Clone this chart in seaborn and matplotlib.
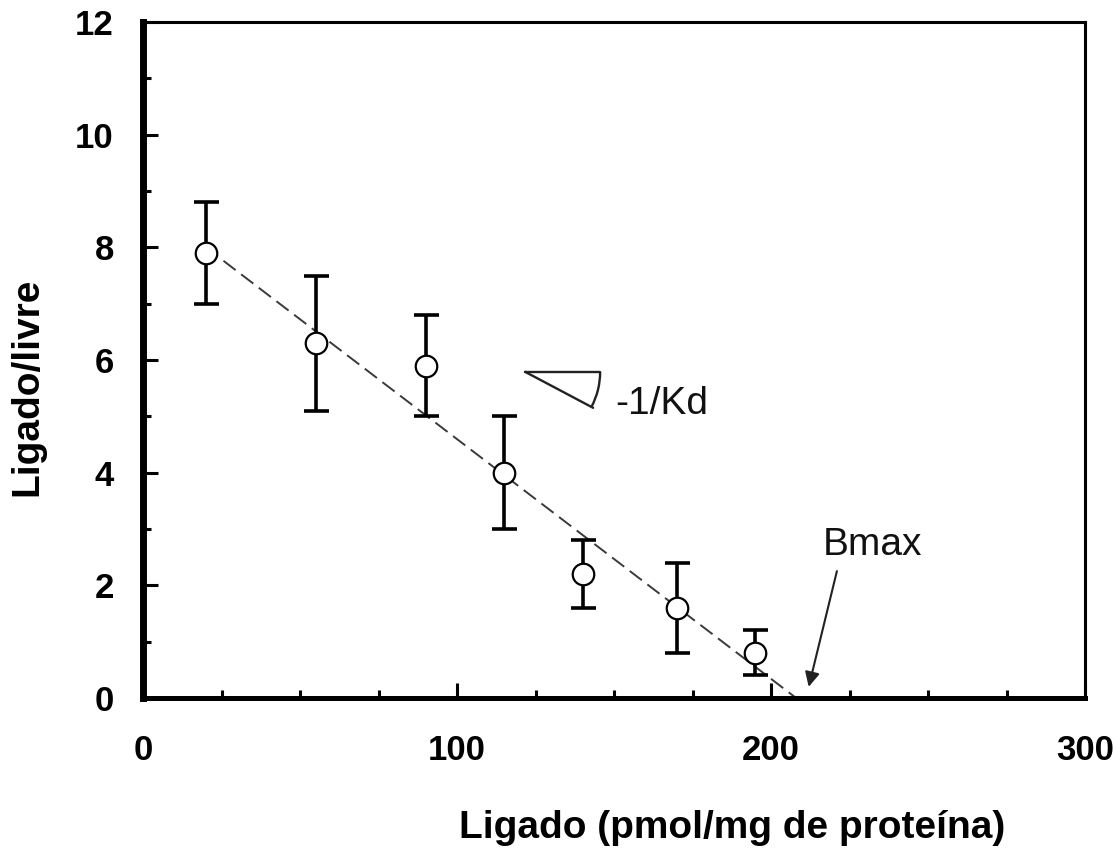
import numpy as np
import pandas as pd
import matplotlib
matplotlib.use('Agg')
import matplotlib.pyplot as plt
import matplotlib.transforms as mtransforms
from matplotlib.patches import Arc
from matplotlib.ticker import MultipleLocator
import seaborn as sns

# Scatchard plot data
bound = [20, 55, 90, 115, 140, 170, 195]
ratio = [7.9, 6.3, 5.9, 4.0, 2.2, 1.6, 0.8]
err = [0.9, 1.2, 0.9, 1.0, 0.6, 0.8, 0.4]

fit_x = [20, 208]
fit_y = [8.0, 0.0]

df = pd.DataFrame({'bound': bound, 'ratio': ratio, 'err': err})
fit = pd.DataFrame({'x': fit_x, 'y': fit_y})

sns.set_style('ticks')
plt.rcParams['font.family'] = ['Liberation Sans', 'DejaVu Sans']
plt.rcParams['lines.scale_dashes'] = False
for key in ['text.color', 'axes.labelcolor', 'xtick.color', 'ytick.color']:
    plt.rcParams[key] = 'black'

fig = plt.figure(figsize=(11.14, 8.48), dpi=100)
ax = fig.add_axes([143 / 1114, 1 - 698 / 848, 942 / 1114, 676 / 848])

sns.lineplot(data=fit, x='x', y='y', ax=ax, color='#3a3a3a', lw=1.4,
             dashes=False, zorder=2).lines[0].set_dashes((11, 5))
ax.errorbar(df['bound'], df['ratio'], yerr=df['err'], fmt='none', ecolor='black',
            elinewidth=2.6, capsize=9, capthick=2.6, zorder=3)
sns.scatterplot(data=df, x='bound', y='ratio', ax=ax, s=240, facecolor='white',
                edgecolor='black', linewidth=1.6, zorder=4)

ax.set_xlim(0, 300)
ax.set_ylim(0, 12)
ax.xaxis.set_major_locator(MultipleLocator(100))
ax.xaxis.set_minor_locator(MultipleLocator(25))
ax.yaxis.set_major_locator(MultipleLocator(2))
ax.yaxis.set_minor_locator(MultipleLocator(1))
ax.tick_params(which='both', direction='in', top=False, right=False, width=2.2, color='black')
ax.tick_params(which='major', length=11)
ax.tick_params(which='minor', length=6)
ax.tick_params(axis='x', which='major', pad=26)
ax.tick_params(axis='y', which='major', pad=21)
for lab in ax.get_xticklabels() + ax.get_yticklabels():
    lab.set_fontsize(25)
    lab.set_fontweight('bold')

for side, lw in [('left', 5), ('bottom', 3.6), ('top', 2.2), ('right', 2.2)]:
    ax.spines[side].set_linewidth(lw)
    ax.spines[side].set_color('black')

ax.set_xlabel('Ligado (pmol/mg de proteína)', fontsize=28, fontweight='bold')
ax.set_ylabel('Ligado/livre', fontsize=28, fontweight='bold')
ax.xaxis.set_label_coords(0.625, -0.165)
ax.yaxis.set_label_coords(-0.104, 0.46)

# slope marker (-1/Kd), drawn in inches around its vertex so the arc stays round
vertex = (121.7, 5.79)
trans = fig.dpi_scale_trans + mtransforms.ScaledTranslation(vertex[0], vertex[1], ax.transData)
ax.plot([0, 0.75], [0, 0], color='#222222', lw=1.7, transform=trans, clip_on=False)
ax.plot([0, 0.68], [0, -0.36], color='#222222', lw=1.7, transform=trans, clip_on=False)
ax.add_patch(Arc((0, 0), 1.5, 1.5, theta1=-28, theta2=0, color='#222222', lw=1.7,
                 transform=trans))
ax.text(150.5, 5.05, '-1/Kd', fontsize=28, color='#111111', ha='left', va='baseline')

# Bmax arrow
ax.text(216.5, 2.54, 'Bmax', fontsize=28, color='#111111', ha='left', va='baseline')
ax.annotate('', xy=(211.8, 0.15), xytext=(221.2, 2.3),
            arrowprops=dict(arrowstyle='-|>', color='#222222', lw=1.5, mutation_scale=22))

fig.savefig('out.png', dpi=100)
